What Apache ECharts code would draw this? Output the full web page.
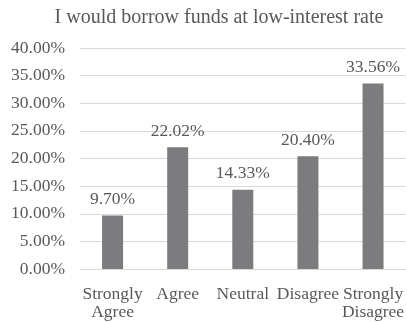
<!DOCTYPE html>
<html>
<head>
<meta charset="UTF-8">
<title></title>
<style>
html,body{margin:0;padding:0;background:#fff}
#chart{width:407px;height:322px}
</style>
</head>
<body>
<div id="chart"></div>
<script src="https://cdn.jsdelivr.net/npm/echarts@6/dist/echarts.min.js"></script>
<script>
var titleText = 'I would borrow funds at low-interest rate';
var categories = ['Strongly\nAgree', 'Agree', 'Neutral', 'Disagree', 'Strongly\nDisagree'];
var values = [9.70, 22.02, 14.33, 20.40, 33.56];

var font = '"Liberation Serif", "Times New Roman", serif';
var chart = echarts.init(document.getElementById('chart'));
chart.setOption({
	animation: false,
	title: {
		text: titleText,
		left: 214,
		textAlign: 'center',
		top: 3,
		textStyle: {fontFamily: font, fontSize: 20, fontWeight: 'normal', color: '#595959'}
	},
	grid: {left: 80, right: 0, top: 48, bottom: 53},
	xAxis: {
		type: 'category',
		data: categories,
		axisTick: {show: false},
		axisLine: {lineStyle: {color: '#d9d9d9'}},
		axisLabel: {
			interval: 0,
			margin: 16,
			fontFamily: font,
			fontSize: 17.5,
			lineHeight: 18,
			color: '#595959'
		}
	},
	yAxis: {
		type: 'value',
		min: 0,
		max: 40,
		interval: 5,
		axisLine: {show: false},
		axisTick: {show: false},
		splitLine: {lineStyle: {color: '#d9d9d9'}},
		axisLabel: {
			margin: 15,
			fontFamily: font,
			fontSize: 17.5,
			color: '#595959',
			formatter: function(v) { return v.toFixed(2) + '%'; }
		}
	},
	series: [{
		type: 'bar',
		data: values,
		barWidth: 21,
		itemStyle: {color: '#7c7c7f'},
		label: {
			show: true,
			position: 'top',
			distance: 7,
			fontFamily: font,
			fontSize: 17.5,
			color: '#595959',
			formatter: function(p) { return p.value.toFixed(2) + '%'; }
		}
	}]
});
</script>
</body>
</html>
